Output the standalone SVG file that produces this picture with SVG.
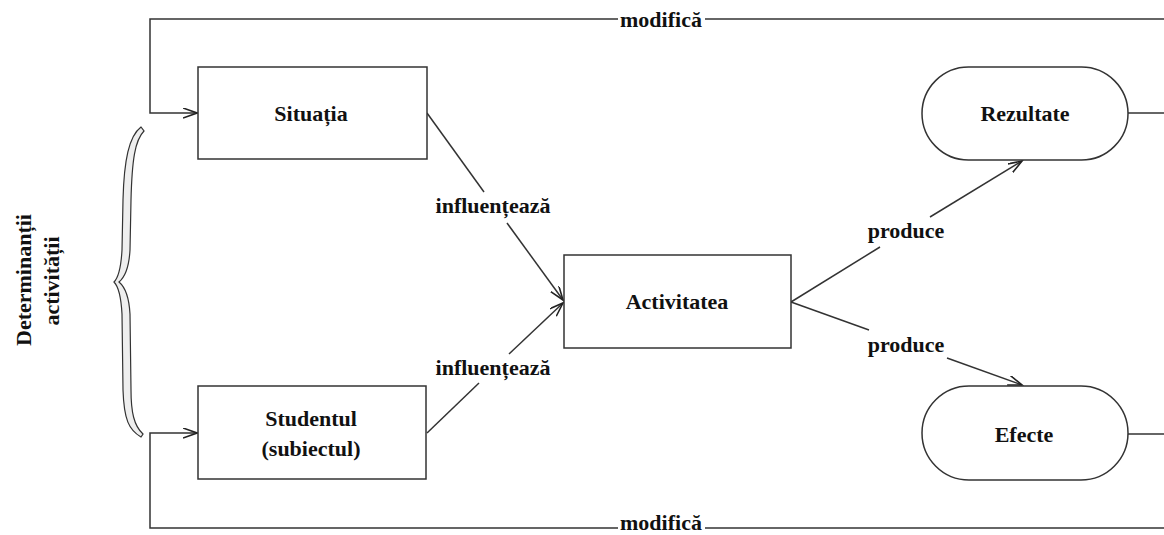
<svg xmlns="http://www.w3.org/2000/svg" width="1164" height="535" viewBox="0 0 1164 535">
<style>
.box{fill:#fff;stroke:#333;stroke-width:1.5}
.ln{fill:none;stroke:#333;stroke-width:1.5}
.t{font-family:"Liberation Serif","Times New Roman",serif;font-weight:bold;font-size:22px;fill:#111;text-anchor:middle}
</style>
<defs>
<marker id="arr" markerUnits="userSpaceOnUse" markerWidth="16" markerHeight="12" refX="14" refY="5" orient="auto">
<path d="M0,0 L14,5 L0,10" fill="none" stroke="#222" stroke-width="1.6"/>
</marker>
</defs>
<rect width="1164" height="535" fill="#fff"/>
<g id="connectors">
<path class="ln" d="M618,19 H150 V113 H197" marker-end="url(#arr)"/>
<path class="ln" d="M705,19 H1164"/>
<path class="ln" d="M618,528 H150 V433 H197" marker-end="url(#arr)"/>
<path class="ln" d="M705,528 H1164"/>
<path class="ln" d="M1128,113 H1164"/>
<path class="ln" d="M1128,434 H1164"/>
<path class="ln" d="M427,113 L484,192"/>
<path class="ln" d="M507,223 L563,300" marker-end="url(#arr)"/>
<path class="ln" d="M427,433 L479,383"/>
<path class="ln" d="M509,354 L563,303" marker-end="url(#arr)"/>
<path class="ln" d="M791,302 L880,247"/>
<path class="ln" d="M930,217 L1022,161" marker-end="url(#arr)"/>
<path class="ln" d="M791,302 L869,330"/>
<path class="ln" d="M947,358 L1022,385" marker-end="url(#arr)"/>
<text class="t" x="661" y="27">modifică</text>
<text class="t" x="661" y="530">modifică</text>
<text class="t" x="493" y="213">influențează</text>
<text class="t" x="493" y="375">influențează</text>
<text class="t" x="906" y="238">produce</text>
<text class="t" x="906" y="352">produce</text>
</g>
<g id="brace">
<path d="M141,127 C129,136 124,160 123,200 L122,250 C121,268 119,277 114,282 C119,287 121,296 122,314 L123,390 C124,420 129,430 141,437 L143,434 C134,426 131,412 131,390 L130,314 C129,296 125,287 119,282 C125,277 129,268 130,250 L131,200 C132,160 135,140 144,131 Z" fill="#eee" stroke="#333" stroke-width="1.2"/>
</g>
<g id="label-determinanti">
<text class="t" transform="translate(31,280) rotate(-90)">Determinanții</text>
<text class="t" transform="translate(59,281) rotate(-90)">activității</text>
</g>
<g id="situatia">
<rect class="box" x="198" y="67" width="229" height="92"/>
<text class="t" x="311" y="121">Situația</text>
</g>
<g id="studentul">
<rect class="box" x="198" y="386" width="228" height="93"/>
<text class="t" x="311" y="426">Studentul</text>
<text class="t" x="311" y="456">(subiectul)</text>
</g>
<g id="activitatea">
<rect class="box" x="564" y="255" width="227" height="93"/>
<text class="t" x="677" y="309">Activitatea</text>
</g>
<g id="rezultate">
<rect class="box" x="922" y="67" width="206" height="93" rx="46.5" ry="46.5"/>
<text class="t" x="1025" y="121">Rezultate</text>
</g>
<g id="efecte">
<rect class="box" x="922" y="386" width="206" height="94" rx="47" ry="47"/>
<text class="t" x="1024" y="442">Efecte</text>
</g>
</svg>
